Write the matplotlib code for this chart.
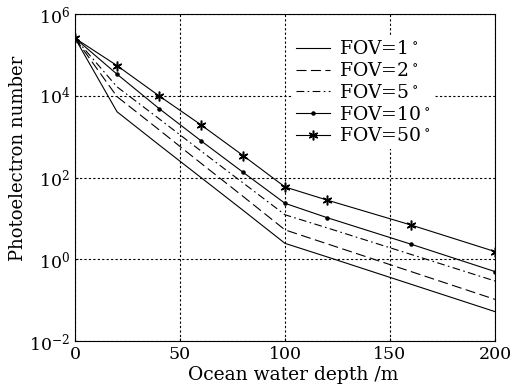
import numpy as np
import matplotlib
matplotlib.use('Agg')
import matplotlib.pyplot as plt

plt.rcParams['font.family'] = 'DejaVu Serif'
plt.rcParams['mathtext.fontset'] = 'dejavuserif'

# depth (m) and log10 of photoelectron number
depth = [0, 20, 40, 60, 80, 100, 120, 160, 200]
log_fov1 = [5.41, 3.61, 2.80, 2.00, 1.20, 0.39, 0.06, -0.61, -1.28]
log_fov2 = [5.41, 3.98, 3.17, 2.35, 1.54, 0.72, 0.38, -0.30, -0.98]
log_fov5 = [5.41, 4.22, 3.44, 2.65, 1.87, 1.09, 0.77, 0.12, -0.53]
log_fov10 = [5.41, 4.53, 3.69, 2.90, 2.13, 1.37, 1.02, 0.37, -0.30]
log_fov50 = [5.41, 4.74, 4.00, 3.29, 2.54, 1.77, 1.45, 0.84, 0.19]
labels = ['FOV=1$^\\circ$', 'FOV=2$^\\circ$', 'FOV=5$^\\circ$',
          'FOV=10$^\\circ$', 'FOV=50$^\\circ$']

fig = plt.figure(figsize=(5.14, 3.92), dpi=100)
ax = fig.add_axes([0.146, 0.130, 0.817, 0.834])

lw = 0.8
ax.plot(depth, 10**np.array(log_fov1), 'k-', lw=lw, label=labels[0])
ax.plot(depth, 10**np.array(log_fov2), 'k', lw=lw, dashes=(9, 4), label=labels[1])
ax.plot(depth, 10**np.array(log_fov5), 'k', lw=lw, dashes=(7, 3, 1.5, 3), label=labels[2])
ax.plot(depth, 10**np.array(log_fov10), 'k-', lw=lw, marker='.', ms=4.5, label=labels[3])
ax.plot(depth, 10**np.array(log_fov50), 'k-', lw=lw, marker=(6, 2, 0), ms=7,
        mew=1.1, label=labels[4])

ax.set_yscale('log')
ax.set_xlim(0, 200)
ax.set_ylim(1e-2, 1e6)
ax.set_xticks([0, 50, 100, 150, 200])
ax.set_yticks([1e-2, 1e0, 1e2, 1e4, 1e6])
ax.yaxis.set_minor_locator(matplotlib.ticker.NullLocator())
ax.tick_params(direction='in', length=2, labelsize=12.5, colors='black')
ax.grid(True, color='black', linestyle=(0, (2, 2)), linewidth=0.8)

ax.set_xlabel('Ocean water depth /m', fontsize=13.5)
ax.xaxis.set_label_coords(0.52, -0.075)
ax.set_ylabel('Photoelectron number', fontsize=13)
ax.yaxis.set_label_coords(-0.115, 0.56)

leg = ax.legend(loc='upper left', bbox_to_anchor=(0.495, 0.96), fontsize=13.5,
                frameon=True, handlelength=1.8, handletextpad=0.5,
                labelspacing=0.2, borderpad=0.2)
leg.get_frame().set_edgecolor('none')
leg.get_frame().set_facecolor('white')
leg.get_frame().set_alpha(1)

fig.savefig('out.png', dpi=100)
